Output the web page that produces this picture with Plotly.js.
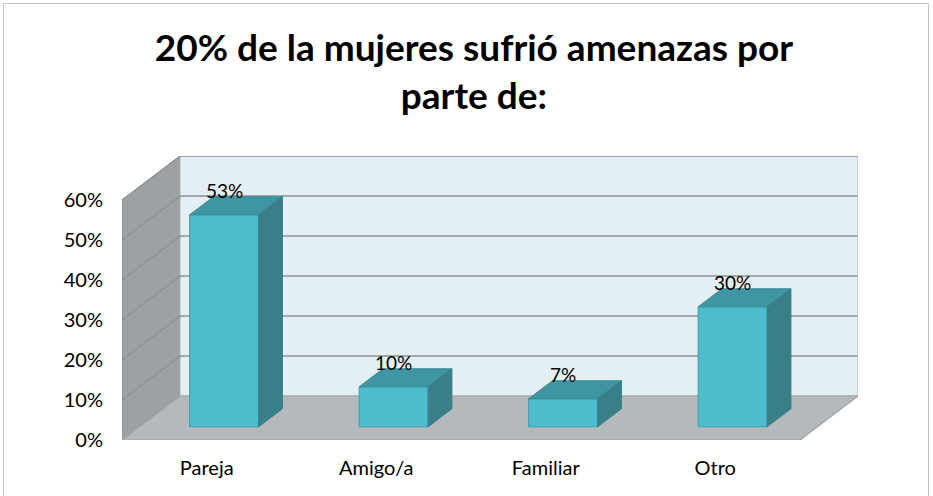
<!DOCTYPE html>
<html>
<head>
<meta charset="utf-8">
<script src="https://cdn.plot.ly/plotly-3.0.1.min.js"></script>
<style>
  html, body { margin: 0; padding: 0; background: #ffffff; }
  #wrap { position: relative; width: 933px; height: 496px; overflow: hidden; }
  #chart { width: 933px; height: 496px; }
  #frame { position: absolute; left: 3px; top: 3px; width: 926px; height: 520px;
           border: 1.5px solid #c4c4c4; pointer-events: none; box-sizing: border-box; }
</style>
</head>
<body>
<div id="wrap">
  <div id="chart"></div>
  <div id="frame"></div>
</div>
<script>
// ---- data ----
const categories = ['Pareja', 'Amigo/a', 'Familiar', 'Otro'];
const values = [0.53, 0.10, 0.07, 0.30];
const labels = ['53%', '10%', '7%', '30%'];
const tickVals = [0, 0.1, 0.2, 0.3, 0.4, 0.5, 0.6];
const chartTitle = '20% de la mujeres sufrió amenazas por<br>parte de:';

// ---- oblique 3D geometry (in axis units) ----
const DX = 0.342;          // full floor depth in x units
const DY = 0.11;           // full floor depth in y units
const yMax = tickVals[tickVals.length - 1];
const xL = -0.5, xR = categories.length - 0.5;
const barFront = 0.30, barBack = 0.71, halfW = 0.2035;

const font = 'Lato, "Open Sans", sans-serif';
const shapes = [];
// side wall
shapes.push({type: 'path', xref: 'x', yref: 'y', layer: 'below',
  path: `M ${xL} 0 L ${xL} ${yMax} L ${xL + DX} ${yMax + DY} L ${xL + DX} ${DY} Z`,
  fillcolor: '#9ca1a4', line: {color: '#8a8e91', width: 1}});
// back wall
shapes.push({type: 'path', xref: 'x', yref: 'y', layer: 'below',
  path: `M ${xL + DX} ${DY} L ${xL + DX} ${yMax + DY} L ${xR + DX} ${yMax + DY} L ${xR + DX} ${DY} Z`,
  fillcolor: '#e4eff4', line: {color: '#a9adb0', width: 1}});
// floor
shapes.push({type: 'path', xref: 'x', yref: 'y', layer: 'below',
  path: `M ${xL} 0 L ${xR} 0 L ${xR + DX} ${DY} L ${xL + DX} ${DY} Z`,
  fillcolor: '#b3b9bd', line: {color: '#9ea3a6', width: 1.2}});
// gridlines on side & back walls
tickVals.forEach(v => {
  if (v === 0) return;
  shapes.push({type: 'line', xref: 'x', yref: 'y', layer: 'below',
    x0: xL, y0: v, x1: xL + DX, y1: v + DY, line: {color: '#84888b', width: 1}});
  shapes.push({type: 'line', xref: 'x', yref: 'y', layer: 'below',
    x0: xL + DX, y0: v + DY, x1: xR + DX, y1: v + DY, line: {color: '#8e9194', width: 1.6}});
});

// bars
const xPos = categories.map((c, i) => i + barFront * DX);
const base = barFront * DY;
const ddx = (barBack - barFront) * DX, ddy = (barBack - barFront) * DY;

const traces = [];
traces.push({
  type: 'bar', x: xPos, y: values, base: base, width: 2 * halfW,
  marker: {color: '#4dbccd', line: {color: '#3d9fad', width: 1}},
  hoverinfo: 'skip', showlegend: false
});
values.forEach((v, i) => {
  const xl = xPos[i] - halfW, xr = xPos[i] + halfW, top = base + v;
  // top face
  traces.push({type: 'scatter', mode: 'lines', fill: 'toself',
    x: [xl, xr, xr + ddx, xl + ddx, xl], y: [top, top, top + ddy, top + ddy, top],
    fillcolor: '#3f95a2', line: {color: '#3a8c98', width: 1}, hoverinfo: 'skip', showlegend: false});
  // side face
  traces.push({type: 'scatter', mode: 'lines', fill: 'toself',
    x: [xr, xr, xr + ddx, xr + ddx, xr], y: [base, top, top + ddy, base + ddy, base],
    fillcolor: '#3a7e88', line: {color: '#37808a', width: 1}, hoverinfo: 'skip', showlegend: false});
});

const annotations = values.map((v, i) => ({
  x: xPos[i], y: base + v + ddy, xref: 'x', yref: 'y', text: labels[i],
  showarrow: false, yanchor: 'middle', yshift: 6,
  font: {family: font, size: 19, color: '#000000'}
}));

const layout = {
  width: 933, height: 496,
  margin: {l: 122, r: 75, t: 156, b: 56},
  paper_bgcolor: '#ffffff', plot_bgcolor: 'rgba(0,0,0,0)',
  title: {text: chartTitle, xref: 'container', yref: 'container', x: 0.508, xanchor: 'center',
          y: 0.878, yanchor: 'top', font: {family: font, size: 37, color: '#000000', weight: 'bold'}},
  xaxis: {type: 'linear', range: [xL, xR + DX], tickvals: categories.map((c, i) => i), ticktext: categories,
          showgrid: false, zeroline: false, showline: false, ticks: '', ticklabelstandoff: 14,
          tickfont: {family: font, size: 20, color: '#000000'}, fixedrange: true},
  yaxis: {range: [0, yMax + DY], tickvals: tickVals, tickformat: '.0%',
          showgrid: false, zeroline: false, showline: false, ticks: '', ticklabelstandoff: 18,
          tickfont: {family: font, size: 20, color: '#000000'}, fixedrange: true},
  shapes: shapes, annotations: annotations, bargap: 0, showlegend: false
};

Plotly.newPlot('chart', traces, layout, {staticPlot: true});
</script>
</body>
</html>
